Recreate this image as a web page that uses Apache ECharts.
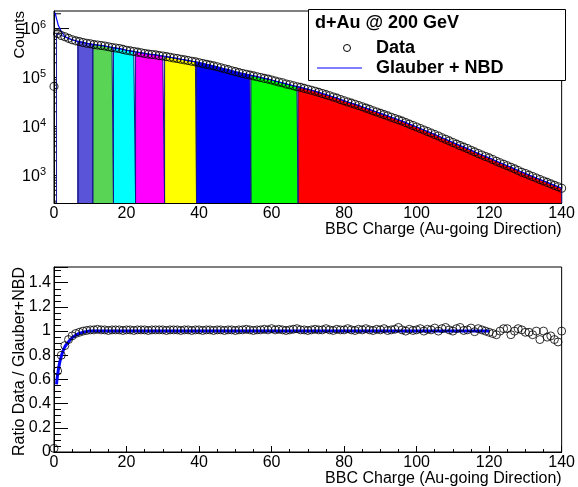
<!DOCTYPE html>
<html>
<head>
<meta charset="utf-8">
<script src="https://cdn.jsdelivr.net/npm/echarts@6/dist/echarts.min.js"></script>
<style>
html,body{margin:0;padding:0;background:#fff;}
#chart{width:578px;height:487px;}
</style>
</head>
<body>
<div id="chart"></div>
<script>
// ---------- data ----------
const chargeX = Array.from({length: 141}, (_, i) => i); // BBC charge bins 0..140
const counts = [
 6.6e4, 7.9e5, 7.2e5, 6.8e5, 6.3e5, 5.9e5, 5.6e5, 5.4e5, 5.2e5, 5.0e5,
 4.9e5, 4.7e5, 4.6e5, 4.5e5, 4.4e5, 4.25e5, 4.1e5, 4.0e5, 3.9e5, 3.75e5,
 3.6e5, 3.5e5, 3.4e5, 3.3e5, 3.2e5, 3.1e5, 3.0e5, 2.95e5, 2.9e5, 2.8e5,
 2.75e5, 2.67e5, 2.59e5, 2.51e5, 2.44e5, 2.36e5, 2.29e5, 2.22e5, 2.15e5, 2.09e5,
 2.01e5, 1.94e5, 1.86e5, 1.79e5, 1.73e5, 1.66e5, 1.58e5, 1.51e5, 1.45e5, 1.38e5,
 1.32e5, 1.26e5, 1.21e5, 1.17e5, 1.12e5, 1.08e5, 1.04e5, 1.0e5, 9.6e4, 9.3e4,
 8.9e4, 8.5e4, 8.1e4, 7.8e4, 7.4e4, 7.1e4, 6.8e4, 6.5e4, 6.3e4, 6.0e4,
 5.75e4, 5.5e4, 5.25e4, 4.98e4, 4.71e4, 4.47e4, 4.24e4, 4.01e4, 3.8e4, 3.57e4,
 3.37e4, 3.16e4, 3.0e4, 2.84e4, 2.69e4, 2.53e4, 2.38e4, 2.24e4, 2.1e4, 1.98e4,
 1.86e4, 1.75e4, 1.65e4, 1.55e4, 1.46e4, 1.37e4, 1.29e4, 1.2e4, 1.12e4, 1.05e4,
 9.8e3, 9.1e3, 8.5e3, 7.9e3, 7.4e3, 6.9e3, 6.4e3, 5.9e3, 5.5e3, 5.1e3,
 4.71e3, 4.37e3, 4.07e3, 3.8e3, 3.55e3, 3.29e3, 3.04e3, 2.82e3, 2.63e3, 2.45e3,
 2.29e3, 2.12e3, 1.96e3, 1.82e3, 1.7e3, 1.58e3, 1.48e3, 1.37e3, 1.27e3, 1.17e3,
 1.1e3, 1.02e3, 955, 890, 830, 776, 724, 676, 631, 589,
 550
];
// Glauber + NBD curve: steep head near zero, then follows the distribution
const fitHeadX = [0.3, 0.7, 1.2, 2];
const fitHeadY = [2.1e6, 1.6e6, 1.15e6, 8.8e5];
const fitFromBin = 3;

// centrality band edges (BBC charge) and fill colours
const bandEdges = [0.7, 6.6, 10.7, 16.4, 22.5, 30.5, 39.3, 54.3, 67.3, 140];
const bandColors = ['#ffffff', '#5954d8', '#59d454', '#00ffff', '#ff00ff', '#ffff00', '#0000ff', '#00ff00', '#ff0000'];

// ratio panel
const ratio = [
 0.03, 0.67, 0.80, 0.88, 0.93, 0.96, 0.98, 0.99, 1.00, 1.005,
 1.01, 1.01, 1.015, 1.01, 1.01, 1.005, 1.01, 1.01, 1.01, 1.005,
 1.01, 1.01, 1.005, 1.01, 1.01, 1.01, 1.005, 1.01, 1.01, 1.01,
 1.01, 1.005, 1.01, 1.01, 1.01, 1.005, 1.01, 1.01, 1.005, 1.01,
 1.01, 1.005, 1.01, 1.01, 1.005, 1.01, 1.01, 1.005, 1.01, 1.01,
 1.005, 1.01, 1.01, 1.015, 1.01, 1.005, 1.01, 1.01, 1.015, 1.01,
 1.02, 1.01, 1.015, 1.01, 1.005, 1.01, 1.015, 1.02, 1.01, 1.01,
 1.005, 1.01, 1.015, 1.01, 1.01, 1.02, 1.01, 1.005, 1.015, 1.01,
 1.01, 1.02, 1.01, 1.005, 1.015, 1.01, 1.02, 1.01, 1.005, 1.015,
 1.01, 1.02, 1.005, 1.01, 1.015, 1.03, 1.01, 1.0, 1.015, 1.005,
 1.01, 1.02, 1.0, 1.015, 1.01, 1.025, 1.0, 1.02, 1.03, 1.01,
 1.0, 1.02, 1.03, 1.005, 1.01, 1.025, 0.995, 1.02, 1.01, 1.0,
 0.99, 0.98, 0.97, 1.00, 1.02, 1.02, 0.97, 1.00, 1.02, 1.01,
 0.99, 0.99, 0.97, 1.00, 0.93, 1.00, 0.95, 0.96, 0.93, 0.91,
 1.00
];
const ratioFitX = [0.7, 1, 1.5, 2, 2.5, 3, 4, 5, 6, 7, 8, 9, 10, 120];
const ratioFitY = [0.56, 0.64, 0.73, 0.79, 0.835, 0.87, 0.91, 0.945, 0.965, 0.98, 0.99, 0.996, 1.0, 1.0];

const xTicks = [0, 20, 40, 60, 80, 100, 120, 140];
const ratioTicks = ['0', '0.2', '0.4', '0.6', '0.8', '1', '1.2', '1.4'];

const legendTitle = 'd+Au @ 200 GeV';
const legendData = 'Data';
const legendFit = 'Glauber + NBD';
const xTitle = 'BBC Charge (Au-going Direction)';
const yTopTitle = 'Counts';
const yBotTitle = 'Ratio Data / Glauber+NBD';

// ---------- build ----------
const FONT = 'Liberation Sans, Arial, Helvetica, sans-serif';
const LOGMIN = 275, LOGMAX = 2.28e6;

const dataPts = chargeX.map((x, i) => [x, counts[i]]);
const fitPts = fitHeadX.map((x, i) => [x, fitHeadY[i]])
  .concat(chargeX.slice(fitFromBin).map(x => [x, counts[x]]));

const bandSeries = bandColors.map((col, b) => {
  const a = bandEdges[b], e = bandEdges[b + 1];
  const pts = [[a, LOGMIN], [a, counts[Math.round(a)]]];
  for (let i = Math.ceil(a); i <= Math.floor(e); i++) {
    if (i > a && i < e) pts.push([i, counts[i]]);
  }
  pts.push([e, counts[Math.round(e)]]);
  pts.push([e, LOGMIN]);
  return {
    type: 'line', xAxisIndex: 0, yAxisIndex: 0, data: pts,
    showSymbol: false, symbol: 'none', z: 2, silent: true,
    lineStyle: {color: '#14148c', width: 1},
    areaStyle: {color: col, opacity: 1, origin: 'start'},
    clip: true
  };
});

// log-axis ticks (major + minor), drawn through the axis scale
const logTicks = [];
for (let n = 2; n <= 6; n++) {
  for (let k = 1; k <= 9; k++) {
    const v = k * Math.pow(10, n);
    if (v >= LOGMIN && v <= LOGMAX) logTicks.push([0, v, k === 1 ? 1 : 0]);
  }
}

const ratioPts = chargeX.map((x, i) => [x, ratio[i]]);
const ratioFitPts = ratioFitX.map((x, i) => [x, ratioFitY[i]]);

const xAxisBase = (gi) => ({
  type: 'value', gridIndex: gi, min: xTicks[0], max: xTicks[xTicks.length - 1], interval: 20,
  axisLine: {show: true, lineStyle: {color: '#000', width: 1}},
  axisTick: {show: true, inside: true, length: 6, lineStyle: {color: '#000'}},
  minorTick: {show: true, splitNumber: 4, length: 3, lineStyle: {color: '#000'}},
  splitLine: {show: false},
  axisLabel: {color: '#000', fontSize: 16, fontFamily: FONT, margin: 3},
  name: xTitle, nameLocation: 'end', nameGap: 0,
  nameTextStyle: {color: '#000', fontSize: 16, fontFamily: FONT, align: 'right', verticalAlign: 'top', padding: [19, 0, 0, 0]}
});

const option = {
  animation: false,
  backgroundColor: '#fff',
  grid: [
    {left: 54, right: 12, top: 11, height: 192, show: true, borderColor: '#000', borderWidth: 1, backgroundColor: 'transparent'},
    {left: 54, right: 12, top: 267, height: 186, show: true, borderColor: '#000', borderWidth: 1, backgroundColor: 'transparent'}
  ],
  xAxis: [xAxisBase(0), xAxisBase(1)],
  yAxis: [
    {
      type: 'log', logBase: 10, gridIndex: 0, min: LOGMIN, max: LOGMAX,
      axisLine: {show: true, lineStyle: {color: '#000'}},
      axisTick: {show: false},
      splitLine: {show: false},
      axisLabel: {
        margin: 8, color: '#000', fontFamily: FONT,
        showMinLabel: false, showMaxLabel: false,
        formatter: function (v) {
          const l = Math.log10(v), r = Math.round(l);
          if (Math.abs(l - r) > 1e-6) return '';
          return '{b|10}{s|' + r + '}';
        },
        rich: {
          b: {fontSize: 16, fontFamily: FONT, color: '#000', padding: [3, 0, 0, 0], verticalAlign: 'bottom'},
          s: {fontSize: 11, fontFamily: FONT, color: '#000', lineHeight: 11, verticalAlign: 'top'}
        }
      }
    },
    {
      type: 'value', gridIndex: 1, min: 0, max: 1.53, interval: 0.2,
      axisLine: {show: true, lineStyle: {color: '#000'}},
      axisTick: {show: true, inside: true, length: 14, lineStyle: {color: '#000'}},
      minorTick: {show: true, splitNumber: 4, length: 7, lineStyle: {color: '#000'}},
      splitLine: {show: false},
      axisLabel: {
        margin: 3, color: '#000', fontSize: 16, fontFamily: FONT, showMaxLabel: false,
        formatter: function (v) {
          const idx = Math.round(v / 0.2);
          return (Math.abs(v - idx * 0.2) < 1e-6 && ratioTicks[idx] !== undefined) ? ratioTicks[idx] : '';
        }
      }
    }
  ],
  series: [
    {
      type: 'custom', xAxisIndex: 0, yAxisIndex: 0, z: 1, silent: true,
      data: logTicks,
      renderItem: function (params, api) {
        const p = api.coord([api.value(0), api.value(1)]);
        const len = api.value(2) ? 15 : 7;
        return {type: 'line', shape: {x1: p[0], y1: p[1], x2: p[0] + len, y2: p[1]},
          style: {stroke: '#000', lineWidth: 1}};
      }
    }
  ].concat(bandSeries).concat([
    {
      name: legendFit, type: 'line', xAxisIndex: 0, yAxisIndex: 0, data: fitPts,
      showSymbol: false, symbol: 'none', smooth: false, z: 3,
      lineStyle: {color: '#0000ff', width: 1.2}
    },
    {
      name: legendData, type: 'scatter', xAxisIndex: 0, yAxisIndex: 0, data: dataPts,
      symbol: 'circle', symbolSize: 8, z: 4,
      itemStyle: {color: 'rgba(0,0,0,0)', borderColor: '#000', borderWidth: 1.1}
    },
    {
      type: 'line', xAxisIndex: 1, yAxisIndex: 1, data: ratioFitPts,
      showSymbol: false, symbol: 'none', smooth: true, z: 3,
      lineStyle: {color: '#0000ff', width: 3}
    },
    {
      type: 'scatter', xAxisIndex: 1, yAxisIndex: 1, data: ratioPts,
      symbol: 'circle', symbolSize: 8, z: 4,
      itemStyle: {color: 'rgba(0,0,0,0)', borderColor: '#000', borderWidth: 1}
    }
  ]),
  graphic: [
    {type: 'rect', z: 100, shape: {x: 308.5, y: 9.5, width: 257, height: 71},
      style: {fill: '#fff', stroke: '#000', lineWidth: 1}},
    {type: 'text', z: 101, x: 315, y: 23,
      style: {text: legendTitle, font: 'bold 18px ' + FONT, fill: '#000', align: 'left', verticalAlign: 'middle'}},
    {type: 'circle', z: 101, shape: {cx: 347, cy: 48, r: 3.5},
      style: {fill: 'none', stroke: '#000', lineWidth: 1}},
    {type: 'text', z: 101, x: 376, y: 48,
      style: {text: legendData, font: 'bold 18px ' + FONT, fill: '#000', align: 'left', verticalAlign: 'middle'}},
    {type: 'line', z: 101, shape: {x1: 317, y1: 68, x2: 362, y2: 68},
      style: {stroke: '#0000ff', lineWidth: 1}},
    {type: 'text', z: 101, x: 376, y: 68,
      style: {text: legendFit, font: 'bold 18px ' + FONT, fill: '#000', align: 'left', verticalAlign: 'middle'}},
    {type: 'text', z: 101, x: 20, y: 11, rotation: Math.PI / 2,
      style: {text: yTopTitle, font: '15px ' + FONT, fill: '#000', align: 'right', verticalAlign: 'middle'}},
    {type: 'text', z: 101, x: 20, y: 267, rotation: Math.PI / 2,
      style: {text: yBotTitle, font: '16px ' + FONT, fill: '#000', align: 'right', verticalAlign: 'middle'}}
  ]
};

const chart = echarts.init(document.getElementById('chart'), null, {renderer: 'canvas'});
chart.setOption(option);
</script>
</body>
</html>
